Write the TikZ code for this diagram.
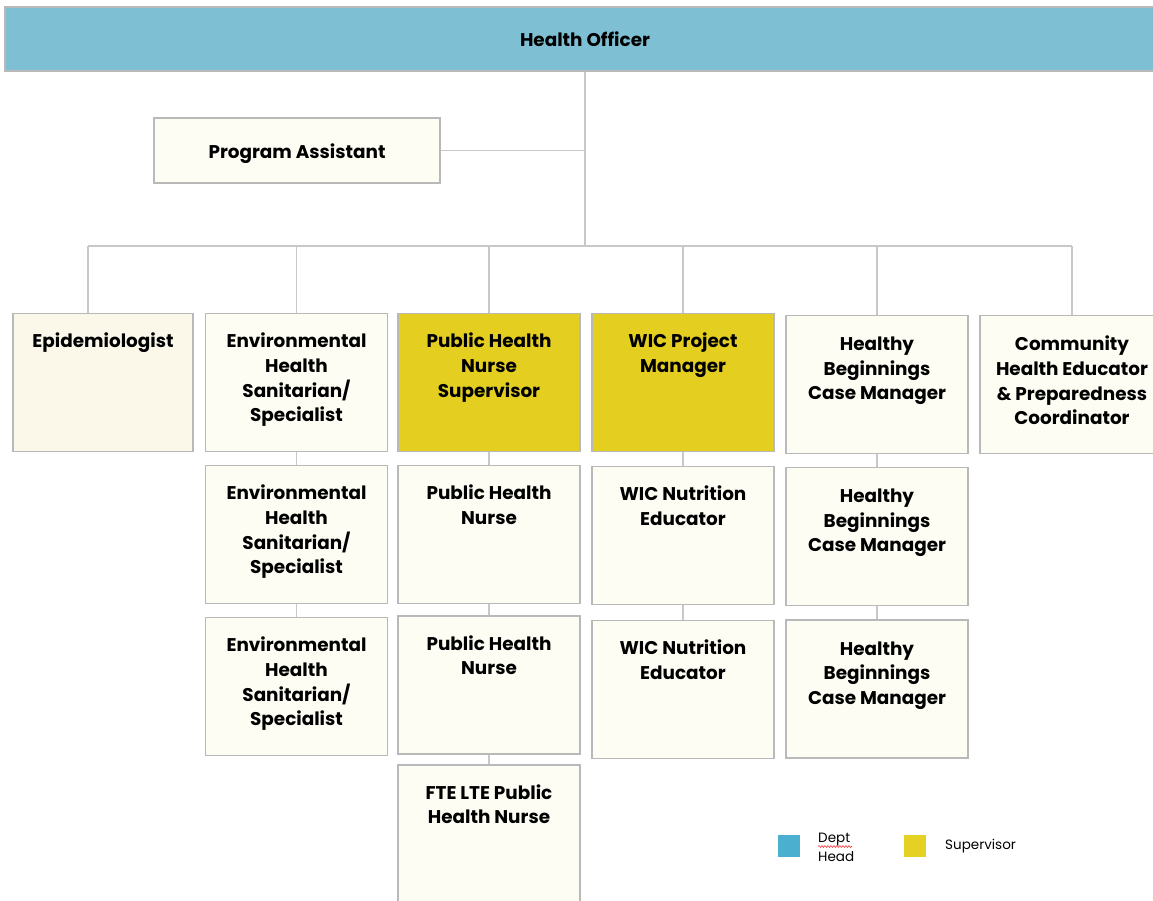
\documentclass[tikz,border=0pt]{standalone}
\usepackage{fontspec}
\setmainfont{Poppins}
\usetikzlibrary{decorations.pathmorphing}

\definecolor{headblue}{RGB}{127,191,211}
\definecolor{cream}{RGB}{253,253,244}
\definecolor{epicream}{RGB}{251,248,234}
\definecolor{supyellow}{RGB}{228,207,33}
\definecolor{boxline}{RGB}{185,185,185}
\definecolor{linegray}{RGB}{200,200,200}
\definecolor{keyblue}{RGB}{75,175,208}
\definecolor{keyyellow}{RGB}{229,208,36}

\begin{document}
\begin{tikzpicture}[x=1pt, y=-1pt,
  box/.style = {draw=boxline, fill=cream, line width=1.2pt, minimum width=182pt, minimum height=138pt, inner sep=0pt},
  boss/.style = {box, fill=supyellow},
  title/.style = {anchor=north, yshift=-20pt, align=center, inner sep=0pt, font=\bfseries\fontsize{18.4}{24.6}\selectfont},
  link/.style = {draw=linegray, line width=1.2pt},
  key/.style = {minimum size=22pt, inner sep=0pt},
  keytext/.style = {anchor=west, align=left, inner sep=0pt, font=\fontsize{13.5}{19}\selectfont}]

% Page
\useasboundingbox (0,0) rectangle (1153,901);
\clip (0,0) rectangle (1153,901);

% Top of the chart
\node[draw=boxline, fill=headblue, line width=1.2pt, minimum width=1160pt, minimum height=64pt, font=\bfseries\fontsize{18.4}{24}\selectfont] (ho) at (585,39) {Health Officer};
\node[draw=boxline, fill=cream, line width=1.2pt, minimum width=286pt, minimum height=65pt, font=\bfseries\fontsize{18.4}{24}\selectfont, label={[anchor=center, yshift=-3pt, inner sep=0pt, font=\bfseries\fontsize{18.4}{24}\selectfont]center:Program Assistant}] (pa) at (297,150.5) {};

% First row
\node[box, fill=epicream, minimum width=180pt, label={[title]north:Epidemiologist}] (epi) at (103,382.5) {};
\node[box, label={[title]north:{Environmental\\Health\\Sanitarian/\\Specialist}}] (env1) at (296.5,382.5) {};
\node[boss, label={[title]north:{Public Health\\Nurse\\Supervisor}}] (phns) at (489,382.5) {};
\node[boss, label={[title]north:{WIC Project\\Manager}}] (wicm) at (683,382.5) {};
\node[box, label={[title, yshift=-2pt]north:{Healthy\\Beginnings\\Case Manager}}] (hb1) at (877,384.5) {};
\node[box, minimum width=184pt, label={[title, yshift=-1pt]north:{Community\\Health Educator\\\& Preparedness\\Coordinator}}] (che) at (1072,384.5) {};

% Second row
\node[box, label={[title]north:{Environmental\\Health\\Sanitarian/\\Specialist}}] (env2) at (296.5,534.5) {};
\node[box, label={[title]north:{Public Health\\Nurse}}] (phn1) at (489,534.5) {};
\node[box, label={[title]north:{WIC Nutrition\\Educator}}] (wic1) at (683,535.5) {};
\node[box, label={[title, yshift=-2pt]north:{Healthy\\Beginnings\\Case Manager}}] (hb2) at (877,536.5) {};

% Third row
\node[box, label={[title]north:{Environmental\\Health\\Sanitarian/\\Specialist}}] (env3) at (296.5,686.5) {};
\node[box, label={[title]north:{Public Health\\Nurse}}] (phn2) at (489,685) {};
\node[box, label={[title]north:{WIC Nutrition\\Educator}}] (wic2) at (683,689.5) {};
\node[box, label={[title, yshift=-2pt]north:{Healthy\\Beginnings\\Case Manager}}] (hb3) at (877,689) {};

% Fourth row
\node[box, minimum height=140pt, label={[title]north:{FTE LTE Public\\Health Nurse}}] (fte) at (489,835) {};

% Connectors
\coordinate (bus) at (585,246);
\coordinate (epidrop) at (88,246);
\coordinate (chedrop) at (1072,246);
\draw[link] (ho.south) -- (bus);
\draw[link] (pa.east) -- (pa.east -| bus);
\draw[link] (epidrop) -- (chedrop);
\draw[link] (epidrop) -- (epidrop |- epi.north);
\draw[link] (env1.north |- bus) -- (env1.north);
\draw[link] (phns.north |- bus) -- (phns.north);
\draw[link] (wicm.north |- bus) -- (wicm.north);
\draw[link] (hb1.north |- bus) -- (hb1.north);
\draw[link] (chedrop) -- (che.north);
\draw[link] (env1.south) -- (env2.north);
\draw[link] (env2.south) -- (env3.north);
\draw[link] (phns.south) -- (phn1.north);
\draw[link] (phn1.south) -- (phn2.north);
\draw[link] (phn2.south) -- (fte.north);
\draw[link] (wicm.south) -- (wic1.north);
\draw[link] (wic1.south) -- (wic2.north);
\draw[link] (hb1.south) -- (hb2.north);
\draw[link] (hb2.south) -- (hb3.north);

% Legend
\node[key, fill=keyblue] (keyhead) at (789,846) {};
\node[keytext] (keyheadtxt) at (818,847.5) {Dept\\Head};
\draw[red!80, line width=0.6pt, decorate, decoration={snake, amplitude=0.9pt, segment length=3pt}] ([yshift=1pt]keyheadtxt.west) -- ++(34,0);
\node[key, fill=keyyellow] (keysup) at (915,846) {};
\node[keytext] (keysuptxt) at (945,846) {Supervisor};

\end{tikzpicture}
\end{document}
